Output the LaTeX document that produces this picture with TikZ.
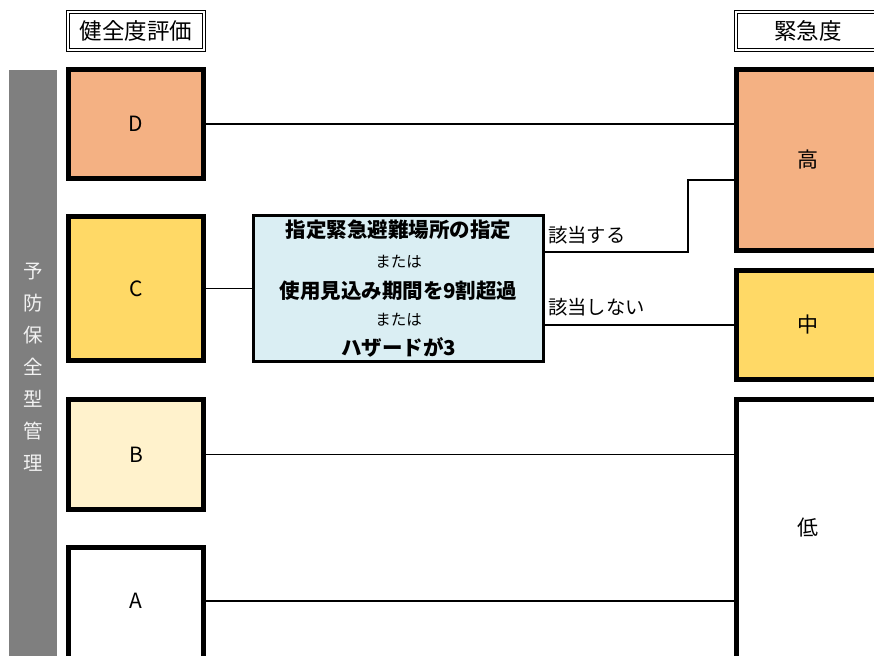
\documentclass[tikz,border=0pt]{standalone}
\usepackage{fontspec}
\setmainfont{Noto Sans CJK JP}
\definecolor{cD}{HTML}{F4B183}
\definecolor{cC}{HTML}{FFD966}
\definecolor{cB}{HTML}{FFF2CC}
\definecolor{cCond}{HTML}{DAEEF3}
\definecolor{cBar}{HTML}{7F7F7F}
\definecolor{cBarText}{HTML}{F2F2F2}
\begin{document}
\begin{tikzpicture}[x=1pt,y=-1pt,
  grade/.style={draw, line width=5pt, minimum width=135pt, inner sep=0pt, font=\fontsize{21}{23}\selectfont},
  urg/.style={draw, line width=5pt, minimum width=143pt, inner sep=0pt, font=\fontsize{21}{23}\selectfont},
  txt/.style={inner sep=0pt, font=\fontsize{21}{23}\selectfont},
  head/.style={draw, double, line width=1pt, double distance=2pt, minimum height=38pt, inner sep=0pt, fill=white, font=\fontsize{22.5}{24}\selectfont},
  conn/.style={line width=1.5pt},
  lab/.style={anchor=west, inner sep=0pt, font=\fontsize{19.3}{21}\selectfont},
  bold/.style={inner sep=0pt, font=\fontsize{20.5}{22}\selectfont\bfseries},
  small/.style={inner sep=0pt, font=\fontsize{15.5}{17}\selectfont}]
\useasboundingbox (0,0) rectangle (874,655);
\clip (0,0) rectangle (874,655);
% side bar
\node[fill=cBar, minimum width=48pt, minimum height=600pt, inner sep=0pt] (bar) at (33,370) {};
\node[text=cBarText, align=center, inner sep=0pt, font=\fontsize{19.5}{32}\selectfont] (bartext) at (33,367) {予\\防\\保\\全\\型\\管\\理};
% headers
\node[head, minimum width=136pt] (h1) at (136,31) {健全度評価};
\node[head, minimum width=144pt] (h2) at (808,31) {緊急度};
% grade boxes
\node[grade, fill=cD, minimum height=109pt] (D) at (136,124) {D};
\node[grade, fill=cC, minimum height=144pt] (C) at (136,288.5) {C};
\node[grade, fill=cB, minimum height=110pt] (B) at (136,454.5) {B};
\node[grade, fill=white, minimum height=130pt] (A) at (136,612.5) {};
\node[txt] (Atext) at (136,601) {A};
% urgency boxes
\node[urg, fill=cD, minimum height=181pt] (Hi) at (808,160) {高};
\node[urg, fill=cC, minimum height=109pt] (Mid) at (808,325) {中};
\node[urg, fill=white, minimum height=280pt] (Lo) at (808,539.5) {};
\node[txt] (Lotext) at (808,528) {低};
% condition box
\node[draw, line width=2.5pt, fill=cCond, minimum width=290pt, minimum height=146pt, inner sep=0pt] (cond) at (398.5,288.5) {};
\node[bold] (t1) at (398.5,230) {指定緊急避難場所の指定};
\node[small] (t2) at (398.5,262) {または};
\node[bold] (t3) at (398.5,291) {使用見込み期間を9割超過};
\node[small] (t4) at (398.5,320) {または};
\node[bold] (t5) at (398.5,347) {ハザードが3};
% connectors
\coordinate (yesS) at (cond.east |- 0,252);
\coordinate (yesM1) at (688,252);
\coordinate (yesM2) at (688,180);
\coordinate (noS) at (cond.east |- 0,325);
\draw[conn] (D.east) -- (D.east -| Hi.west);
\draw[conn] (C.east) -- (cond.west);
\draw[conn] (yesS) -- (yesM1) -- (yesM2) -- (yesM2 -| Hi.west);
\draw[conn] (noS) -- (noS -| Mid.west);
\draw[conn] (B.east) -- (B.east -| Lo.west);
\draw[conn] (Atext -| A.east) -- (Atext -| Lo.west);
% labels
\node[lab] (yes) at (548,235) {該当する};
\node[lab] (no) at (548,307) {該当しない};
\end{tikzpicture}
\end{document}
